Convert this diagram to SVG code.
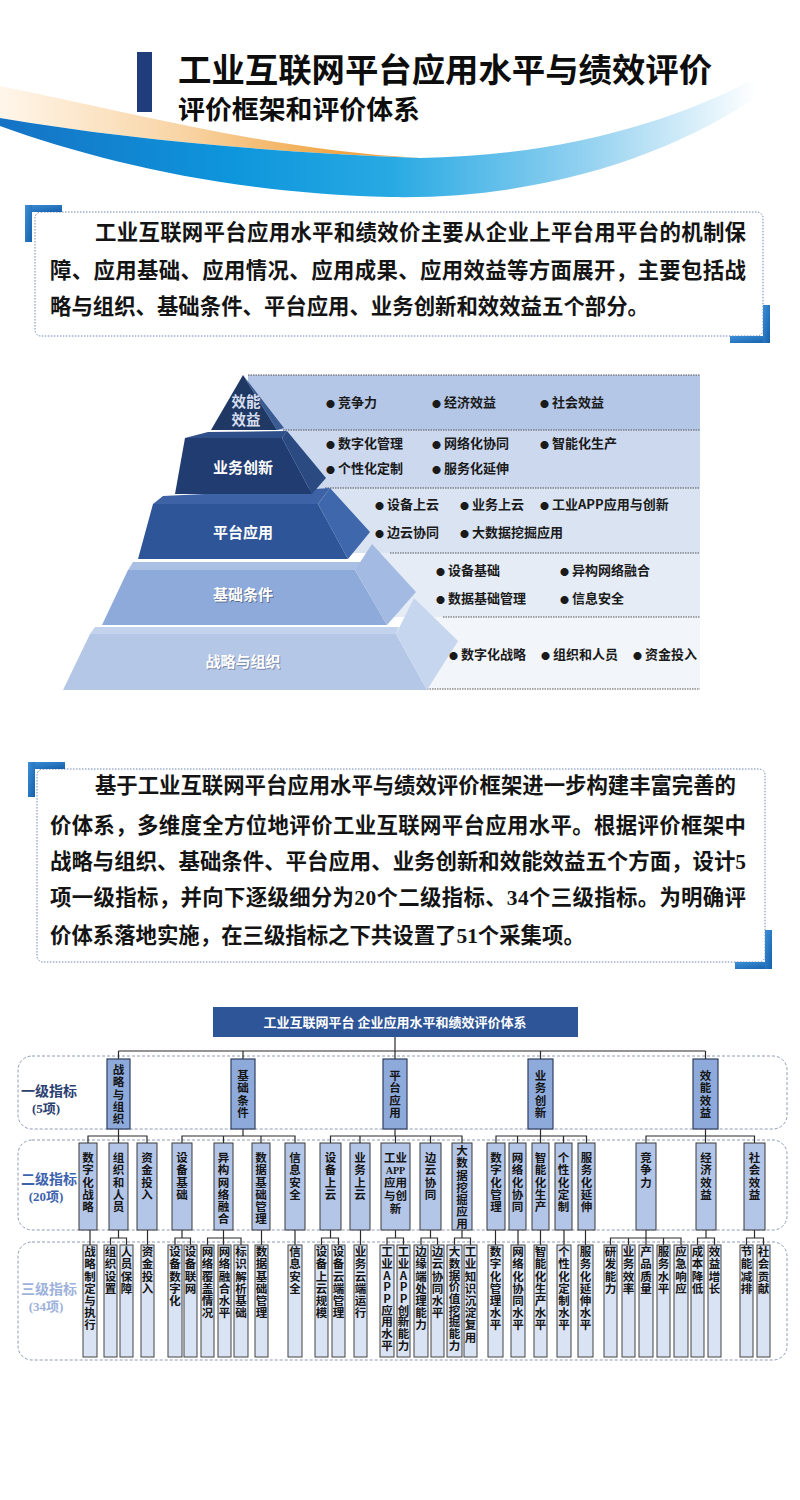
<svg xmlns="http://www.w3.org/2000/svg" width="800" height="1500" viewBox="0 0 800 1500">
<defs>
<style>
.t{font-family:"Noto Sans CJK SC","Noto Sans",sans-serif;font-weight:700}
.sr{font-family:"Liberation Serif",serif;font-weight:700}
.p{font-size:21.4px;fill:#141414}
.bl{font-size:13px;fill:#1a1a1a}
.bu{font-size:9px}
.v{writing-mode:vertical-rl;text-orientation:upright;font-size:11.5px;letter-spacing:0.7px;fill:#141414}
.l1 rect{fill:#8eaadb;stroke:#2f3f5f;stroke-width:1.2}
.l2 rect{fill:#b4c6e7;stroke:#3a3a3a;stroke-width:1}
.l3 rect{fill:#dae3f3;stroke:#444;stroke-width:1}
.cn{fill:none;stroke:#2a2a2a;stroke-width:1.2}
.dash{fill:none;stroke:#8f9ab5;stroke-width:1;stroke-dasharray:3 2}
.dot{fill:#fff;stroke:#6f86b5;stroke-width:1;stroke-dasharray:1.5 1.5}
.bd{fill:none;stroke:#555;stroke-width:1;stroke-dasharray:1.5 1}
.br{fill:url(#brg)}
</style>
<linearGradient id="og" x1="0" y1="0" x2="1" y2="0">
<stop offset="0" stop-color="#fff6ea"/>
<stop offset="0.45" stop-color="#f8d3a2"/>
<stop offset="0.8" stop-color="#f1a646"/>
<stop offset="1" stop-color="#f1a646"/>
</linearGradient>
<linearGradient id="bg" x1="0" y1="0" x2="1" y2="0">
<stop offset="0" stop-color="#1572c4"/>
<stop offset="0.3" stop-color="#0e96dc"/>
<stop offset="0.5" stop-color="#27a9e3"/>
<stop offset="0.75" stop-color="#93d1f0"/>
<stop offset="0.97" stop-color="#ffffff"/>
</linearGradient>
<linearGradient id="brg" x1="0" y1="0" x2="1" y2="1">
<stop offset="0" stop-color="#3d8fd8"/>
<stop offset="1" stop-color="#1560aa"/>
</linearGradient>
</defs>
<rect width="800" height="1500" fill="#ffffff"/>

<g id="header">
<path d="M0,86 C130,112 270,150 420,158 C270,152 130,140 0,118 Z" fill="url(#og)"/>
<path d="M0,118 C130,140 270,152 420,158 C560,156 680,122 775,68 L780,80 C690,150 550,200 390,197 C230,193 100,162 0,126 Z" fill="url(#bg)"/>
<rect x="137" y="52" width="15" height="60" fill="#1f3d7a"/>
<text class="t" x="178" y="82" font-size="33" font-weight="900" textLength="534" lengthAdjust="spacingAndGlyphs" fill="#0d0d0d">工业互联网平台应用水平与绩效评价</text>
<text class="t" x="178" y="119" font-size="26" textLength="242" lengthAdjust="spacingAndGlyphs" fill="#0d0d0d">评价框架和评价体系</text>
</g>

<g id="intro1">
<rect class="dot" x="35" y="212" width="728" height="124" rx="6"/>
<rect class="br" x="25" y="205" width="37" height="7"/>
<rect class="br" x="25" y="205" width="7" height="37"/>
<rect class="br" x="730" y="336" width="40" height="7"/>
<rect class="br" x="763" y="305" width="7" height="38"/>
<text class="t p" x="95" y="240" textLength="651">工业互联网平台应用水平和绩效价主要从企业上平台用平台的机制保</text>
<text class="t p" x="50" y="278" textLength="696">障、应用基础、应用情况、应用成果、应用效益等方面展开，主要包括战</text>
<text class="t p" x="50" y="314">略与组织、基础条件、平台应用、业务创新和效效益五个部分。</text>
</g>

<g id="pyramid">
<g id="bands">
<rect x="248" y="375" width="452" height="55" fill="#b5c7e6"/>
<rect x="283" y="430" width="417" height="58" fill="#cbd8ee"/>
<rect x="325" y="488" width="375" height="65" fill="#d9e3f2"/>
<rect x="370" y="553" width="330" height="64" fill="#e6ecf6"/>
<rect x="415" y="617" width="285" height="72" fill="#f2f5fa"/>
<path class="bd" d="M248,375 H700 M283,430 H700 M325,488 H700 M390,553 H700 M443,617 H700 M427,689 H700"/>
</g>
<g id="tier5">
<polygon points="95,627 399,627 396,634 90,634" fill="#c3d3ee"/>
<polygon points="90,634 396,634 427,690 63,690" fill="#b4c7e7"/>
<polygon points="396,634 414,598 458,641 427,690" fill="#c7d6ef"/>
<text class="t" x="244" y="668" font-size="15" text-anchor="middle" fill="#7d8cab">战略与组织</text>
<text class="t" x="243" y="667" font-size="15" text-anchor="middle" fill="#ffffff">战略与组织</text>
</g>
<g id="tier4">
<polygon points="133,562 362,562 355,570 128,570" fill="#a9bfe4"/>
<polygon points="128,570 355,570 387,625 102,625" fill="#8eaadb"/>
<polygon points="355,570 372,544 416,592 387,625" fill="#a3bbe2"/>
<text class="t" x="244" y="601" font-size="15" text-anchor="middle" fill="#5d6e92">基础条件</text>
<text class="t" x="243" y="600" font-size="15" text-anchor="middle" fill="#ffffff">基础条件</text>
</g>
<g id="tier3">
<polygon points="163,496 330,488 318,504 153,504" fill="#3d63a6"/>
<polygon points="153,504 318,504 348,559 138,559" fill="#2e5597"/>
<polygon points="318,504 330,488 370,532 348,559" fill="#3f67ab"/>
<text class="t" x="243" y="538" font-size="15" text-anchor="middle" fill="#ffffff">平台应用</text>
</g>
<g id="tier2">
<polygon points="208,432 287,431 282,438 185,438" fill="#2f4f8a"/>
<polygon points="185,438 282,438 312,494 175,494" fill="#213c70"/>
<polygon points="282,438 287,431 326,478 312,494" fill="#2c4a82"/>
<text class="t" x="243" y="473" font-size="15" text-anchor="middle" fill="#ffffff">业务创新</text>
</g>
<g id="tier1">
<polygon points="243,375 211,430 277,430" fill="#1f3864"/>
<polygon points="243,375 277,430 284,428" fill="#3a5a92"/>
<text class="t" x="246" y="407" font-size="14.5" text-anchor="middle" fill="#d6deee">效能</text>
<text class="t" x="246" y="425" font-size="14.5" text-anchor="middle" fill="#d6deee">效益</text>
</g>
<g id="band-text" class="t bl">
<text x="326" y="407"><tspan class="bu">●</tspan> 竞争力</text>
<text x="432" y="407"><tspan class="bu">●</tspan> 经济效益</text>
<text x="540" y="407"><tspan class="bu">●</tspan> 社会效益</text>
<text x="326" y="448"><tspan class="bu">●</tspan> 数字化管理</text>
<text x="432" y="448"><tspan class="bu">●</tspan> 网络化协同</text>
<text x="540" y="448"><tspan class="bu">●</tspan> 智能化生产</text>
<text x="326" y="473"><tspan class="bu">●</tspan> 个性化定制</text>
<text x="432" y="473"><tspan class="bu">●</tspan> 服务化延伸</text>
<text x="375" y="509"><tspan class="bu">●</tspan> 设备上云</text>
<text x="460" y="509"><tspan class="bu">●</tspan> 业务上云</text>
<text x="540" y="509"><tspan class="bu">●</tspan> 工业APP应用与创新</text>
<text x="375" y="537"><tspan class="bu">●</tspan> 边云协同</text>
<text x="460" y="537"><tspan class="bu">●</tspan> 大数据挖掘应用</text>
<text x="436" y="575"><tspan class="bu">●</tspan> 设备基础</text>
<text x="560" y="575"><tspan class="bu">●</tspan> 异构网络融合</text>
<text x="436" y="603"><tspan class="bu">●</tspan> 数据基础管理</text>
<text x="560" y="603"><tspan class="bu">●</tspan> 信息安全</text>
<text x="449" y="659"><tspan class="bu">●</tspan> 数字化战略</text>
<text x="541" y="659"><tspan class="bu">●</tspan> 组织和人员</text>
<text x="633" y="659"><tspan class="bu">●</tspan> 资金投入</text>
</g>
</g>

<g id="intro2">
<rect class="dot" x="37" y="769" width="728" height="193" rx="6"/>
<rect class="br" x="28" y="762" width="37" height="7"/>
<rect class="br" x="28" y="762" width="7" height="35"/>
<rect class="br" x="735" y="962" width="37" height="7"/>
<rect class="br" x="765" y="930" width="7" height="39"/>
<text class="t p" x="95" y="793" textLength="641">基于工业互联网平台应用水平与绩效评价框架进一步构建丰富完善的</text>
<text class="t p" x="50" y="833" textLength="696">价体系，多维度全方位地评价工业互联网平台应用水平。根据评价框架中</text>
<text class="t p" x="50" y="869" textLength="696">战略与组织、基础条件、平台应用、业务创新和效能效益五个方面，设计<tspan class="sr">5</tspan></text>
<text class="t p" x="50" y="905" textLength="696">项一级指标，并向下逐级细分为<tspan class="sr">20</tspan>个二级指标、<tspan class="sr">34</tspan>个三级指标。为明确评</text>
<text class="t p" x="50" y="943">价体系落地实施，在三级指标之下共设置了<tspan class="sr">51</tspan>个采集项。</text>
</g>

<g id="levels">
<rect class="dash" x="18" y="1056" width="769" height="73" rx="14"/>
<rect class="dash" x="18" y="1140" width="769" height="90" rx="14"/>
<rect class="dash" x="18" y="1242" width="769" height="118" rx="14"/>
<text class="t" x="49" y="1096" font-size="14" text-anchor="middle" fill="#2b4070">一级指标</text>
<text class="t" x="46" y="1113" font-size="13" text-anchor="middle" fill="#2b4070"><tspan class="sr">(5</tspan>项<tspan class="sr">)</tspan></text>
<text class="t" x="49" y="1184" font-size="14" text-anchor="middle" fill="#3d63ad">二级指标</text>
<text class="t" x="46" y="1201" font-size="13" text-anchor="middle" fill="#3d63ad"><tspan class="sr">(20</tspan>项<tspan class="sr">)</tspan></text>
<text class="t" x="49" y="1294" font-size="14" text-anchor="middle" fill="#9db2dc">三级指标</text>
<text class="t" x="46" y="1311" font-size="13" text-anchor="middle" fill="#9db2dc"><tspan class="sr">(34</tspan>项<tspan class="sr">)</tspan></text>
</g>

<g id="connectors" class="cn">
<path d="M395,1037 V1051 M118.5,1051 H705.5 M118.5,1051 V1059 M243,1051 V1059 M395,1051 V1059 M540.5,1051 V1059 M705.5,1051 V1059"/>
<path d="M118.5,1129 V1143 M88,1143 V1136 H147 V1143"/>
<path d="M243,1129 V1136 M182,1143 V1136 H295 V1143 M223.5,1136 V1143 M261,1136 V1143"/>
<path d="M395,1129 V1136 M330.5,1143 V1136 H462 V1143 M360,1136 V1143 M395.5,1136 V1143 M430.5,1136 V1143"/>
<path d="M540.5,1129 V1143 M496,1143 V1136 H586.5 V1143 M517.5,1136 V1143 M563.5,1136 V1143"/>
<path d="M705.5,1129 V1143 M646,1143 V1136 H754.5 V1143"/>
<path d="M90,1230 V1245 M147.5,1230 V1245 M261.5,1230 V1245 M295,1230 V1245 M360.5,1230 V1245 M495.5,1230 V1245 M518,1230 V1245 M540.5,1230 V1245 M564,1230 V1245 M585.5,1230 V1245"/>
<path d="M118.5,1230 V1238 M110.5,1245 V1238 H126.5 V1245"/>
<path d="M182,1230 V1238 M175,1245 V1238 H190.5 V1245"/>
<path d="M223.5,1230 V1245 M207.5,1245 V1238 H241 V1245"/>
<path d="M330.5,1230 V1238 M321.5,1245 V1238 H338.5 V1245"/>
<path d="M395.5,1230 V1238 M387,1245 V1238 H403.5 V1245"/>
<path d="M430.5,1230 V1238 M421,1245 V1238 H437.5 V1245"/>
<path d="M462,1230 V1238 M454.5,1245 V1238 H470.5 V1245"/>
<path d="M646,1230 V1245 M610.5,1245 V1238 H681 V1245 M628.5,1238 V1245 M663.5,1238 V1245"/>
<path d="M706,1230 V1238 M697.5,1245 V1238 H714.5 V1245"/>
<path d="M754.5,1230 V1238 M746.5,1245 V1238 H763.5 V1245"/>
</g>

<g id="root">
<rect x="213" y="1007" width="365" height="30" fill="#2e5597"/>
<text class="t" x="395" y="1027" font-size="13" text-anchor="middle" fill="#ffffff">工业互联网平台 企业应用水平和绩效评价体系</text>
</g>

<g id="level1" class="l1">
<g id="l1-1"><rect x="107" y="1059" width="23" height="70"/><text class="t v" x="118.5" y="1064" fill="#1f2a44">战略与组织</text></g>
<g id="l1-2"><rect x="231" y="1059" width="24" height="70"/><text class="t v" x="243" y="1070" fill="#1f2a44">基础条件</text></g>
<g id="l1-3"><rect x="383" y="1059" width="24" height="70"/><text class="t v" x="395" y="1070" fill="#1f2a44">平台应用</text></g>
<g id="l1-4"><rect x="528" y="1059" width="25" height="70"/><text class="t v" x="540.5" y="1070" fill="#1f2a44">业务创新</text></g>
<g id="l1-5"><rect x="693" y="1059" width="25" height="70"/><text class="t v" x="705.5" y="1070" fill="#1f2a44">效能效益</text></g>
</g>

<g id="level2" class="l2">
<g id="l2-1"><rect x="79" y="1143" width="18" height="87"/><text class="t v" x="88" y="1152">数字化战略</text></g>
<g id="l2-2"><rect x="109" y="1143" width="19" height="87"/><text class="t v" x="118.5" y="1152">组织和人员</text></g>
<g id="l2-3"><rect x="137" y="1143" width="20" height="87"/><text class="t v" x="147" y="1152">资金投入</text></g>
<g id="l2-4"><rect x="172" y="1143" width="20" height="87"/><text class="t v" x="182" y="1152">设备基础</text></g>
<g id="l2-5"><rect x="214" y="1143" width="19" height="87"/><text class="t v" x="223.5" y="1152">异构网络融合</text></g>
<g id="l2-6"><rect x="252" y="1143" width="18" height="87"/><text class="t v" x="261" y="1152">数据基础管理</text></g>
<g id="l2-7"><rect x="285" y="1143" width="20" height="87"/><text class="t v" x="295" y="1152">信息安全</text></g>
<g id="l2-8"><rect x="320" y="1143" width="21" height="87"/><text class="t v" x="330.5" y="1152">设备上云</text></g>
<g id="l2-9"><rect x="350" y="1143" width="20" height="87"/><text class="t v" x="360" y="1152">业务上云</text></g>
<g id="l2-10"><rect x="381" y="1143" width="29" height="87"/>
<text class="t" x="395.5" y="1162" font-size="11.5" text-anchor="middle" fill="#141414">工业</text>
<text class="sr" x="395.5" y="1174" font-size="10" text-anchor="middle" fill="#141414">APP</text>
<text class="t" x="395.5" y="1187" font-size="11.5" text-anchor="middle" fill="#141414">应用</text>
<text class="t" x="395.5" y="1200" font-size="11.5" text-anchor="middle" fill="#141414">与创</text>
<text class="t" x="395.5" y="1213" font-size="11.5" text-anchor="middle" fill="#141414">新</text></g>
<g id="l2-11"><rect x="420" y="1143" width="21" height="87"/><text class="t v" x="430.5" y="1152">边云协同</text></g>
<g id="l2-12"><rect x="452" y="1143" width="20" height="87"/><text class="t v" x="462" y="1145">大数据挖掘应用</text></g>
<g id="l2-13"><rect x="487" y="1143" width="18" height="87"/><text class="t v" x="496" y="1152">数字化管理</text></g>
<g id="l2-14"><rect x="509" y="1143" width="17" height="87"/><text class="t v" x="517.5" y="1152">网络化协同</text></g>
<g id="l2-15"><rect x="532" y="1143" width="17" height="87"/><text class="t v" x="540.5" y="1152">智能化生产</text></g>
<g id="l2-16"><rect x="555" y="1143" width="17" height="87"/><text class="t v" x="563.5" y="1152">个性化定制</text></g>
<g id="l2-17"><rect x="578" y="1143" width="17" height="87"/><text class="t v" x="586.5" y="1152">服务化延伸</text></g>
<g id="l2-18"><rect x="636" y="1143" width="20" height="87"/><text class="t v" x="646" y="1152">竞争力</text></g>
<g id="l2-19"><rect x="696" y="1143" width="20" height="87"/><text class="t v" x="706" y="1152">经济效益</text></g>
<g id="l2-20"><rect x="744" y="1143" width="21" height="87"/><text class="t v" x="754.5" y="1152">社会效益</text></g>
</g>

<g id="level3" class="l3">
<g id="l3-1"><rect x="83" y="1245" width="14" height="112"/><text class="t v" x="90" y="1246">战略制定与执行</text></g>
<g id="l3-2"><rect x="104" y="1245" width="13" height="112"/><text class="t v" x="110.5" y="1246">组织设置</text></g>
<g id="l3-3"><rect x="120" y="1245" width="13" height="112"/><text class="t v" x="126.5" y="1246">人员保障</text></g>
<g id="l3-4"><rect x="141" y="1245" width="13" height="112"/><text class="t v" x="147.5" y="1246">资金投入</text></g>
<g id="l3-5"><rect x="168" y="1245" width="14" height="112"/><text class="t v" x="175" y="1246">设备数字化</text></g>
<g id="l3-6"><rect x="184" y="1245" width="13" height="112"/><text class="t v" x="190.5" y="1246">设备联网</text></g>
<g id="l3-7"><rect x="201" y="1245" width="13" height="112"/><text class="t v" x="207.5" y="1246">网络覆盖情况</text></g>
<g id="l3-8"><rect x="218" y="1245" width="13" height="112"/><text class="t v" x="224.5" y="1246">网络融合水平</text></g>
<g id="l3-9"><rect x="234" y="1245" width="14" height="112"/><text class="t v" x="241" y="1246">标识解析基础</text></g>
<g id="l3-10"><rect x="255" y="1245" width="13" height="112"/><text class="t v" x="261.5" y="1246">数据基础管理</text></g>
<g id="l3-11"><rect x="288" y="1245" width="14" height="112"/><text class="t v" x="295" y="1246">信息安全</text></g>
<g id="l3-12"><rect x="315" y="1245" width="13" height="112"/><text class="t v" x="321.5" y="1246">设备上云规模</text></g>
<g id="l3-13"><rect x="332" y="1245" width="13" height="112"/><text class="t v" x="338.5" y="1246">设备云端管理</text></g>
<g id="l3-14"><rect x="354" y="1245" width="13" height="112"/><text class="t v" x="360.5" y="1246">业务云端运行</text></g>
<g id="l3-15"><rect x="380" y="1245" width="14" height="112"/><text class="t v" x="387" y="1246" style="letter-spacing:0.2px">工业APP应用水平</text></g>
<g id="l3-16"><rect x="397" y="1245" width="13" height="112"/><text class="t v" x="403.5" y="1246" style="letter-spacing:0.2px">工业APP创新能力</text></g>
<g id="l3-17"><rect x="414" y="1245" width="14" height="112"/><text class="t v" x="421" y="1246">边缘端处理能力</text></g>
<g id="l3-18"><rect x="431" y="1245" width="13" height="112"/><text class="t v" x="437.5" y="1246">边云协同水平</text></g>
<g id="l3-19"><rect x="447" y="1245" width="15" height="112"/><text class="t v" x="454.5" y="1246" style="letter-spacing:0.2px">大数据价值挖掘能力</text></g>
<g id="l3-20"><rect x="464" y="1245" width="13" height="112"/><text class="t v" x="470.5" y="1246">工业知识沉淀复用</text></g>
<g id="l3-21"><rect x="488" y="1245" width="15" height="112"/><text class="t v" x="495.5" y="1246">数字化管理水平</text></g>
<g id="l3-22"><rect x="511" y="1245" width="14" height="112"/><text class="t v" x="518" y="1246">网络化协同水平</text></g>
<g id="l3-23"><rect x="534" y="1245" width="13" height="112"/><text class="t v" x="540.5" y="1246">智能化生产水平</text></g>
<g id="l3-24"><rect x="557" y="1245" width="14" height="112"/><text class="t v" x="564" y="1246">个性化定制水平</text></g>
<g id="l3-25"><rect x="578" y="1245" width="15" height="112"/><text class="t v" x="585.5" y="1246">服务化延伸水平</text></g>
<g id="l3-26"><rect x="604" y="1245" width="13" height="112"/><text class="t v" x="610.5" y="1246">研发能力</text></g>
<g id="l3-27"><rect x="622" y="1245" width="13" height="112"/><text class="t v" x="628.5" y="1246">业务效率</text></g>
<g id="l3-28"><rect x="639" y="1245" width="14" height="112"/><text class="t v" x="646" y="1246">产品质量</text></g>
<g id="l3-29"><rect x="657" y="1245" width="13" height="112"/><text class="t v" x="663.5" y="1246">服务水平</text></g>
<g id="l3-30"><rect x="674" y="1245" width="14" height="112"/><text class="t v" x="681" y="1246">应急响应</text></g>
<g id="l3-31"><rect x="691" y="1245" width="13" height="112"/><text class="t v" x="697.5" y="1246">成本降低</text></g>
<g id="l3-32"><rect x="708" y="1245" width="13" height="112"/><text class="t v" x="714.5" y="1246">效益增长</text></g>
<g id="l3-33"><rect x="740" y="1245" width="13" height="112"/><text class="t v" x="746.5" y="1246">节能减排</text></g>
<g id="l3-34"><rect x="757" y="1245" width="13" height="112"/><text class="t v" x="763.5" y="1246">社会贡献</text></g>
</g>
</svg>
